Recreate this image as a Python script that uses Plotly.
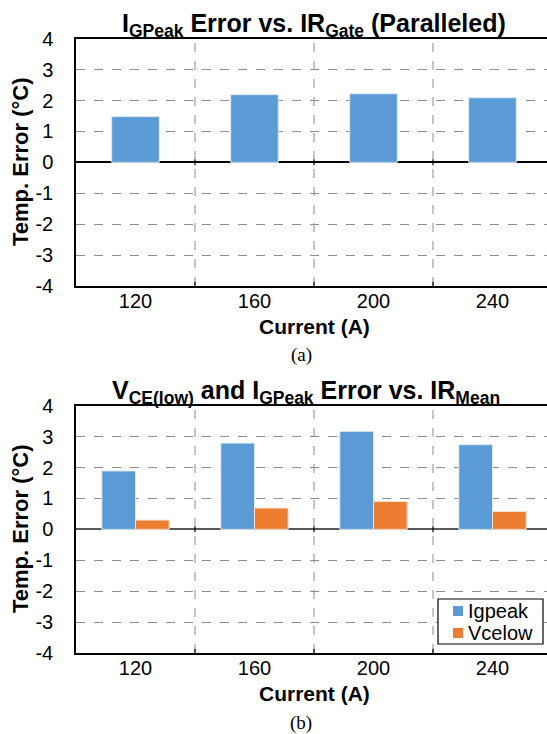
import plotly.graph_objects as go

currents = ["120", "160", "200", "240"]
top_igpeak = [1.48, 2.19, 2.22, 2.09]
bot_igpeak = [1.89, 2.79, 3.17, 2.74]
bot_vcelow = [0.30, 0.69, 0.90, 0.58]
y_ticks = [-4, -3, -2, -1, 0, 1, 2, 3, 4]
y_labels = ["-4", "-3", "-2", "-1", "0", "1", "2", "3", "4"]
legend_names = ["Igpeak", "Vcelow"]

BLUE = "#5B9BD5"
ORANGE = "#ED7D31"
GRID = "#8c8c8c"
W, H = 547, 734
FONT = "Liberation Sans, Arial, sans-serif"

fig = go.Figure()
fig.add_trace(go.Bar(x=currents, y=top_igpeak, width=0.4, marker=dict(color=BLUE, line=dict(color="#dce9f6", width=1)),
                     showlegend=False, xaxis="x", yaxis="y"))
fig.add_trace(go.Bar(x=currents, y=bot_igpeak, name=legend_names[0], width=0.283, offset=-0.283, showlegend=False,
                     marker=dict(color=BLUE, line=dict(color="#dce9f6", width=1)), xaxis="x2", yaxis="y2"))
fig.add_trace(go.Bar(x=currents, y=bot_vcelow, name=legend_names[1], width=0.283, offset=0, showlegend=False,
                     marker=dict(color=ORANGE, line=dict(color="#fbe0cf", width=1)), xaxis="x2", yaxis="y2"))

x0 = 76 / W
top_dom = [1 - 286 / H, 1 - 38.7 / H]
bot_dom = [1 - 653 / H, 1 - 405.7 / H]
xr = [-0.5, 3.5 - 5 / 119]

xcommon = dict(domain=[x0, 1], range=xr, showline=True, mirror=True, linecolor="black", linewidth=1.5,
               showgrid=False, ticks="", tickfont=dict(family=FONT, size=20, color="black"),
               ticklabelstandoff=-4, fixedrange=True, automargin=False)
ycommon = dict(range=[-4, 4], tickvals=y_ticks, ticktext=y_labels, showline=True, linecolor="black", linewidth=1.5,
               showgrid=True, gridcolor=GRID, griddash="dash", gridwidth=1,
               zeroline=True, zerolinewidth=1.5, ticks="", ticklabelstandoff=17,
               tickfont=dict(family=FONT, size=20, color="black"), fixedrange=True, automargin=False)

fig.update_layout(
    width=W, height=H, margin=dict(l=0, r=0, t=0, b=0, autoexpand=False),
    paper_bgcolor="white", plot_bgcolor="white", barmode="overlay", showlegend=False,
    xaxis=dict(**xcommon, anchor="y"),
    yaxis=dict(**ycommon, domain=top_dom, anchor="x", zerolinecolor="black"),
    xaxis2=dict(**xcommon, anchor="y2"),
    yaxis2=dict(**ycommon, domain=bot_dom, anchor="x2", zerolinecolor="#595959"),
    font=dict(family=FONT, color="black"),
)

shapes = []
for xa, ya in (("x", "y"), ("x2", "y2")):
    for b in (0.5, 1.5, 2.5):
        shapes.append(dict(type="line", xref=xa, yref=ya + " domain", x0=b, x1=b, y0=0, y1=1,
                           line=dict(color=GRID, width=1, dash="dash"), layer="below"))
        shapes.append(dict(type="line", xref=xa, yref=ya, x0=b, x1=b, y0=-0.09, y1=0.09,
                           line=dict(color="black", width=1.2)))
        shapes.append(dict(type="line", xref=xa, yref=ya, x0=b, x1=b, y0=-4, y1=-3.86,
                           line=dict(color="black", width=1.2)))

def px(x):
    return x / W
def py(y):
    return 1 - y / H

# legend box
shapes.append(dict(type="rect", xref="paper", yref="paper", x0=px(438), x1=px(543), y0=py(644), y1=py(599),
                   line=dict(color="black", width=1.2), fillcolor="white", layer="above"))
ann = []
for name, col, yc in ((legend_names[0], BLUE, 611), (legend_names[1], ORANGE, 633)):
    shapes.append(dict(type="rect", xref="paper", yref="paper", x0=px(453), x1=px(463), y0=py(yc + 5), y1=py(yc - 5),
                       line=dict(width=0), fillcolor=col, layer="above"))
    ann.append(dict(text=name, x=px(466), y=py(yc), xref="paper", yref="paper", showarrow=False,
                    xanchor="left", yanchor="middle", font=dict(family=FONT, size=20, color="black")))
fig.update_layout(shapes=shapes)

def title(text, xc, yc):
    ann.append(dict(text=text, x=px(xc), y=py(yc), xref="paper", yref="paper", showarrow=False,
                    xanchor="center", yanchor="middle", font=dict(family=FONT, size=25, color="black")))

title("<b>I<sub>GPeak</sub> Error vs. IR<sub>Gate</sub> (Paralleled)</b>", 314, 25)
title("<b>V<sub>CE(low)</sub> and I<sub>GPeak</sub> Error vs. IR<sub>Mean</sub></b>", 306, 392)

for yc in (162, 529):
    ann.append(dict(text="<b>Temp. Error (°C)</b>", x=px(20), y=py(yc), xref="paper", yref="paper",
                    showarrow=False, textangle=-90, xanchor="center", yanchor="middle",
                    font=dict(family=FONT, size=22, color="black")))
for yc in (326, 693):
    ann.append(dict(text="<b>Current (A)</b>", x=px(314), y=py(yc), xref="paper", yref="paper",
                    showarrow=False, xanchor="center", yanchor="middle",
                    font=dict(family=FONT, size=21, color="black")))
for txt, yc in (("(a)", 355), ("(b)", 723)):
    ann.append(dict(text=txt, x=px(301), y=py(yc), xref="paper", yref="paper", showarrow=False,
                    xanchor="center", yanchor="middle",
                    font=dict(family="Liberation Serif, Times New Roman, serif", size=19, color="black")))
fig.update_layout(annotations=ann)

fig.write_html("out.html", config={"displayModeBar": False})
